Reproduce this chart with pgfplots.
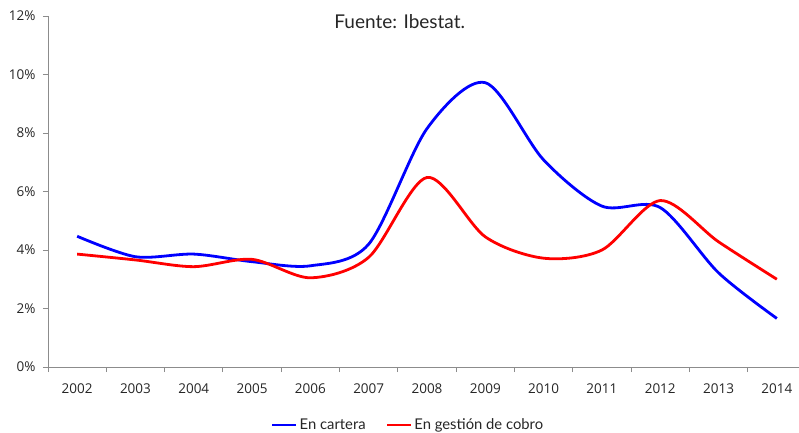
\documentclass[border=0pt]{standalone}
\usepackage{pgfplots}
\pgfplotsset{compat=1.18}
\usepackage{fontspec}
\setmainfont{Open Sans}
\newfontfamily\hfont{Lato}
\definecolor{axgray}{HTML}{8C8C8C}
\definecolor{txt}{HTML}{262626}
\begin{document}
\begin{tikzpicture}
\begin{axis}[
  scale only axis,
  width=758bp, height=351bp,
  xmin=-0.5, xmax=12.5,
  ymin=0, ymax=12,
  axis lines*=left,
  axis line style={axgray, line width=0.9bp},
  xtick={0,...,12},
  xticklabels={2002,2003,2004,2005,2006,2007,2008,2009,2010,2011,2012,2013,2014},
  minor xtick={-0.5,0.5,...,12.5},
  major x tick style={draw=none},
  minor tick length=5bp,
  tick align=outside,
  tick style={axgray, line width=0.9bp},
  ytick={0,2,...,12},
  yticklabels={0\%,2\%,4\%,6\%,8\%,10\%,12\%},
  major tick length=5bp,
  ticklabel style={font=\fontsize{13.5bp}{16bp}\selectfont, text=txt},
  xticklabel style={yshift=-8bp},
  yticklabel style={xshift=-4bp},
  legend columns=2,
  legend style={draw=none, at={(rel axis cs:0.475,-0.165)}, anchor=center,
    font=\hfont\fontsize{14.8bp}{17bp}\selectfont, text=txt,
    /tikz/every even column/.append style={column sep=18bp}},
  legend image code/.code={\draw[#1] (0bp,0bp) -- (24bp,0bp);},
  clip=false,
]
\addplot[blue, line width=2.8bp, smooth, tension=0.5] coordinates {
(0,4.47) (1,3.77) (2,3.86) (3,3.60) (4,3.46) (5,4.20) (6,8.15) (7,9.72) (8,7.08) (9,5.50) (10,5.45) (11,3.22) (12,1.66)};
\addlegendentry{En cartera}
\addplot[red, line width=2.8bp, smooth, tension=0.5] coordinates {
(0,3.86) (1,3.66) (2,3.43) (3,3.68) (4,3.05) (5,3.75) (6,6.48) (7,4.45) (8,3.72) (9,4.00) (10,5.69) (11,4.28) (12,3.00)};
\addlegendentry{En gestión de cobro}
\node[anchor=base, font=\hfont\fontsize{19bp}{22bp}\selectfont, text=txt] at (rel axis cs:0.464,1) [yshift=-13bp] {Fuente: Ibestat.};
\end{axis}
\pgfresetboundingbox
\path[use as bounding box] (-48bp,-66bp) rectangle (751bp,367bp);
\end{tikzpicture}
\end{document}
